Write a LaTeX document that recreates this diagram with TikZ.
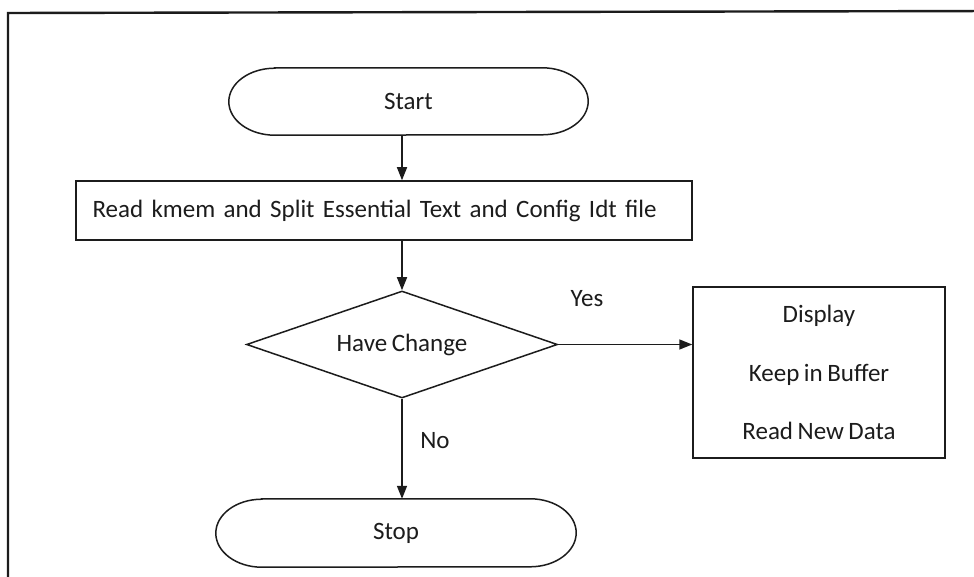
\documentclass[tikz,border=0pt]{standalone}
\usepackage{fontspec}
\setmainfont{Carlito}[WordSpace=0.8]
\usetikzlibrary{arrows.meta,shapes.geometric}
\definecolor{ink}{RGB}{28,28,28}
\begin{document}
\begin{tikzpicture}[x=1pt,y=1pt,
  every node/.style={font=\fontsize{25}{30}\selectfont, text=ink},
  line/.style={draw=ink, line width=1.5pt},
  arr/.style={line, -{Triangle[length=13pt,width=10pt]}},
  frame/.style={draw=ink, line width=2.4pt},
  pillbox/.style={rectangle, draw=none, inner sep=0pt},
  procbox/.style={rectangle, line, inner sep=0pt},
  decbox/.style={diamond, line, aspect=2.9, inner sep=0pt, minimum width=311pt, minimum height=107pt},
  lbl/.style={inner sep=0pt}
]
\useasboundingbox (0,0) rectangle (974,576);
\clip (0,0) rectangle (974,576);
\fill[white] (0,0) rectangle (974,576);
% outer frame (extends past right and bottom edges)
\draw[frame] (8,-20) -- (8,563) -- (1000,565);

% nodes
\node[pillbox, minimum width=359pt, minimum height=67pt] (start) at (408.5,474.5) {Start};
\node[procbox, minimum width=616pt, minimum height=59pt, text width=583pt, align=left, inner xsep=16.5pt] (read) at (384,365.5) {Read kmem and Split Essential Text and Config Idt file};
\node[decbox] (dec) at (402,231.5) {Have Change};
\node[procbox, minimum width=252pt, minimum height=171pt, align=center, font=\fontsize{25}{58.5}\selectfont] (disp) at (819,203.5) {Display\\Keep in Buffer\\Read New Data};
\node[pillbox, minimum width=360pt, minimum height=68pt] (stop) at (396,43) {Stop};

% pill outlines
\draw[line] ([xshift=46pt]start.north west) -- ([xshift=-46pt]start.north east)
  arc[start angle=90, end angle=-90, x radius=46pt, y radius=33.5pt]
  -- ([xshift=46pt]start.south west)
  arc[start angle=270, end angle=90, x radius=46pt, y radius=33.5pt] -- cycle;
\draw[line] ([xshift=46pt]stop.north west) -- ([xshift=-46pt]stop.north east)
  arc[start angle=90, end angle=-90, x radius=46pt, y radius=34pt]
  -- ([xshift=46pt]stop.south west)
  arc[start angle=270, end angle=90, x radius=46pt, y radius=34pt] -- cycle;

% labels
\node[lbl] (yes) at (587,277) {Yes};
\node[lbl] (no) at (435,135) {No};

% connectors
\draw[arr] (start.south -| dec.north) -- (read.north -| dec.north);
\draw[arr] (read.south -| dec.north) -- (dec.north);
\draw[arr] (dec.east) -- (dec.east -| disp.west);
\draw[arr] (dec.south) -- (dec.south |- stop.north);
\end{tikzpicture}
\end{document}
